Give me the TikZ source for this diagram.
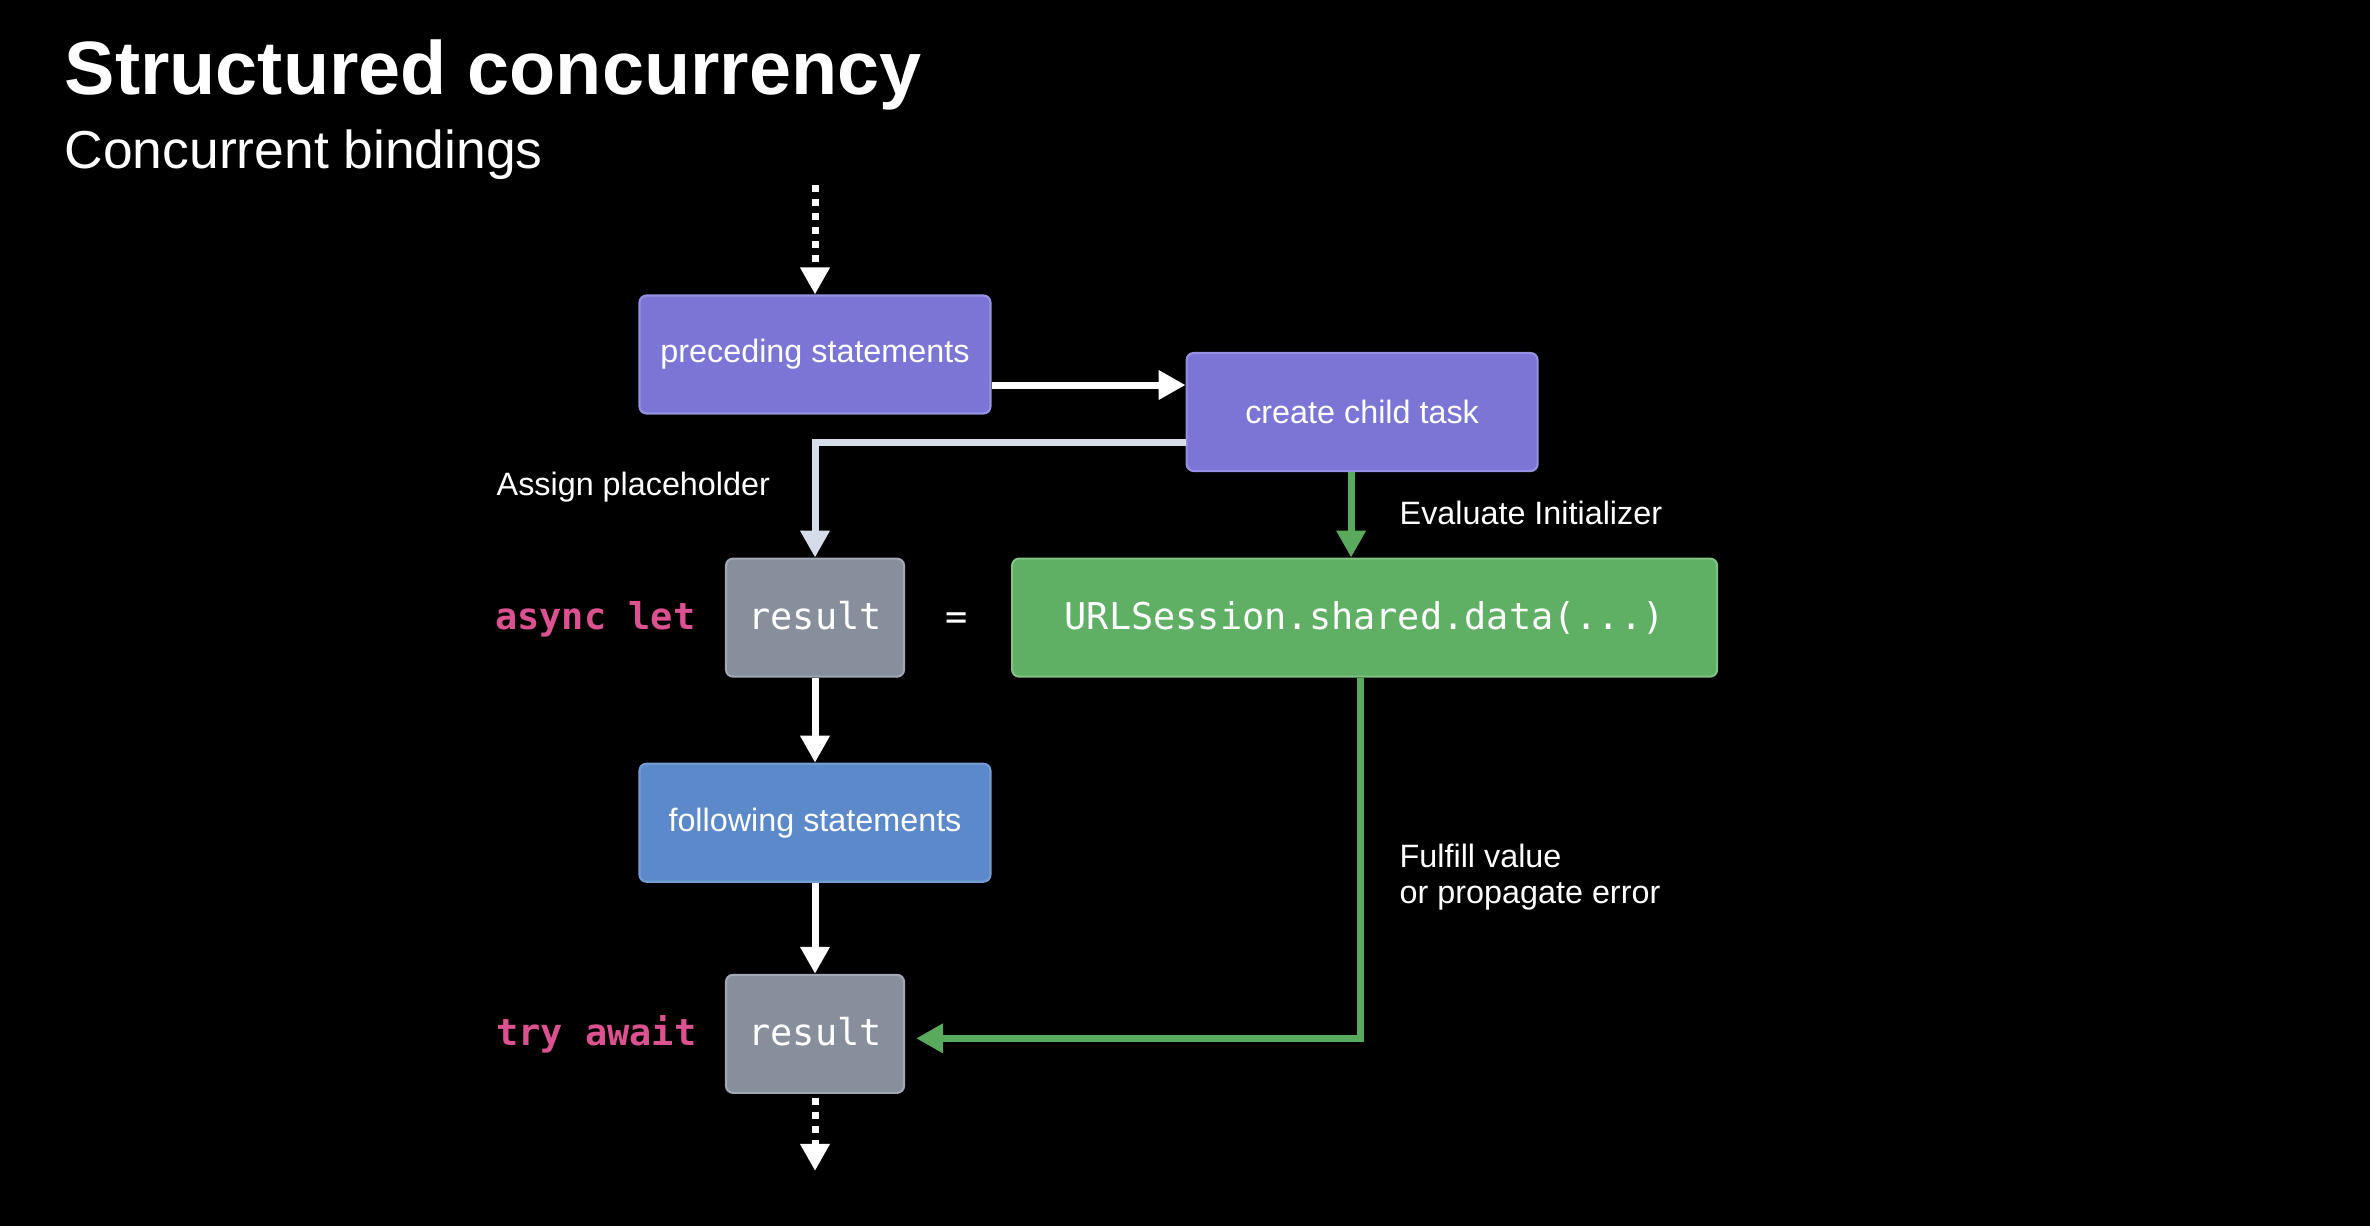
\documentclass[tikz,border=0pt]{standalone}
\usepackage{fontspec}
\setmainfont{Liberation Sans}
\setmonofont{DejaVu Sans Mono}
\usepackage{xcolor}
\usetikzlibrary{arrows.meta,positioning}

\definecolor{taskpurple}{HTML}{7B76D6}
\definecolor{taskpurpleedge}{HTML}{9591E2}
\definecolor{stmtblue}{HTML}{5B89C9}
\definecolor{stmtblueedge}{HTML}{749CD4}
\definecolor{resgray}{HTML}{878F9D}
\definecolor{resgrayedge}{HTML}{A1A7B3}
\definecolor{initgreen}{HTML}{5FAF64}
\definecolor{initgreenedge}{HTML}{80C383}
\definecolor{arrowgreen}{HTML}{5AAA5E}
\definecolor{placegray}{HTML}{D6DCEA}
\definecolor{kwpink}{HTML}{DC5190}

\begin{document}
\begin{tikzpicture}[>={Triangle[width=2.8mm,length=2.7mm]},
    boxnode/.style={rectangle, rounded corners=0.7mm, line width=0.6pt, minimum height=1.18cm, text=white},
    stmtnode/.style={boxnode, minimum width=3.51cm, font=\fontsize{9.2}{11}\selectfont},
    resnode/.style={boxnode, fill=resgray, draw=resgrayedge, minimum width=1.78cm, font=\fontsize{10.5}{12}\ttfamily\selectfont, text height=0.8em, text depth=0.15em},
    codenode/.style={boxnode, fill=initgreen, draw=initgreenedge, minimum width=7.05cm, font=\fontsize{10.5}{12}\ttfamily\selectfont, text height=0.8em, text depth=0.15em},
    kwd/.style={inner sep=0pt, text=kwpink, font=\fontsize{10.5}{12}\ttfamily\bfseries\selectfont, text height=0.8em, text depth=0.15em},
    lbl/.style={inner sep=0pt, text=white, font=\fontsize{9.2}{10.25}\selectfont},
    link/.style={->, line width=0.7mm},
    flow/.style={link, white},
    flowdash/.style={flow, dash pattern=on 0.7mm off 0.7mm},
    placeflow/.style={link, placegray},
    evalflow/.style={link, arrowgreen}]

  \fill[black] (0,0) rectangle (23.70,-12.26);

  % title
  \node[anchor=base west, inner sep=0pt, text=white, font=\fontsize{21.5}{26}\selectfont\bfseries] (title) at (0.64,-0.94) {Structured concurrency};
  \node[anchor=base west, inner sep=0pt, text=white, font=\fontsize{15.2}{18}\selectfont] (subtitle) at (0.64,-1.68) {Concurrent bindings};

  % boxes
  \node[stmtnode, fill=taskpurple, draw=taskpurpleedge]                              (pre)   at (8.15,-3.545) {preceding statements};
  \node[stmtnode, fill=taskpurple, draw=taskpurpleedge, right=1.94cm of pre, yshift=-0.575cm] (child) {create child task};
  \node[resnode, below=1.43cm of pre]                                                (res1)  {result};
  \node[codenode, right=1.06cm of res1]                                              (url)   {URLSession.shared.data(...)};
  \node[stmtnode, fill=stmtblue, draw=stmtblueedge, below=0.85cm of res1]            (fol)   {following statements};
  \node[resnode, below=0.91cm of fol]                                                (res2)  {result};

  % code around the boxes
  \node[kwd, left=0.29cm of res1]                         (asynclet) {async let};
  \node[kwd, text=white, font=\fontsize{10.5}{12}\ttfamily\selectfont, right=0.40cm of res1] (eq) {=};
  \node[kwd, left=0.28cm of res2]                         (tryawait) {try await};

  % labels
  \node[lbl, anchor=west]             (assign)   at (4.96,-4.87)  {Assign placeholder};
  \node[lbl, anchor=west]             (evalinit) at (13.99,-5.13) {Evaluate Initializer};
  \node[lbl, anchor=west, align=left] (fulfill)  at (13.99,-8.77) {Fulfill value\\or propagate error};

  % connectors
  \coordinate[above=1.09cm of pre.north] (enter);
  \coordinate[below=0.77cm of res2.south] (leave);
  \draw[flowdash] (enter) -- (pre);
  \draw[flow] ([yshift=-0.305cm]pre.east) -- ([yshift=-0.305cm]pre.east -| child.west);
  \draw[placeflow] ([yshift=-0.30cm]child.west) -| (res1.north);
  \draw[evalflow] ([xshift=-0.11cm]child.south) -- ([xshift=-0.11cm]child.south |- url.north);
  \draw[flow] (res1) -- (fol);
  \draw[flow] (fol) -- (res2);
  \draw[flowdash, shorten <=0.04cm] (res2) -- (leave);
  \draw[evalflow, shorten >=0.11cm] ([xshift=-0.045cm]url.south) |- ([yshift=-0.045cm]res2.east);
\end{tikzpicture}
\end{document}
